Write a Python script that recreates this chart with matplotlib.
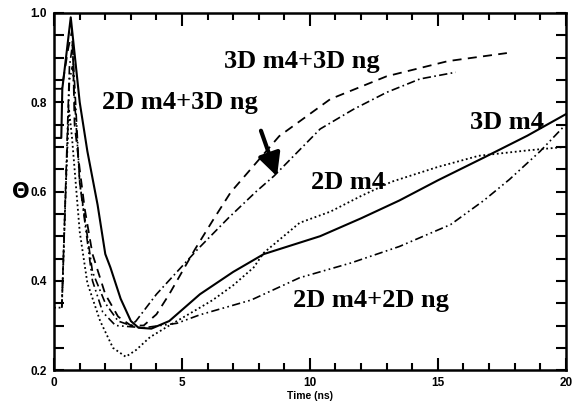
import matplotlib.pyplot as plt
from matplotlib.ticker import MultipleLocator

# time (ns) and theta for the five runs
t_3dm4 = [0, 0.28, 0.32, 0.65, 1.0, 1.3, 1.7, 2.0, 2.2, 2.6, 3.0, 3.3, 3.8, 4.5, 5.7, 7.0, 8.2, 10.4, 12.0, 13.5, 15.0, 16.8, 18.5, 20]
th_3dm4 = [0.72, 0.72, 0.83, 0.99, 0.80, 0.69, 0.57, 0.46, 0.43, 0.36, 0.31, 0.295, 0.293, 0.31, 0.37, 0.42, 0.46, 0.50, 0.54, 0.58, 0.625, 0.676, 0.725, 0.773]

t_2dm4 = [0, 0.3, 0.45, 0.58, 0.7, 0.9, 1.0, 1.3, 1.8, 2.3, 2.8, 3.2, 3.75, 4.5, 5.7, 6.2, 7.0, 7.8, 8.2, 9.6, 10.8, 12.0, 13.2, 15.0, 16.6, 18.5, 20]
th_2dm4 = [0.34, 0.34, 0.6, 0.785, 0.72, 0.58, 0.51, 0.395, 0.31, 0.25, 0.23, 0.245, 0.274, 0.30, 0.34, 0.357, 0.39, 0.43, 0.463, 0.53, 0.555, 0.59, 0.622, 0.655, 0.68, 0.692, 0.70]

t_3d3d = [0, 0.3, 0.55, 0.7, 0.75, 0.8, 1.0, 1.2, 1.5, 2.0, 2.5, 3.0, 3.5, 4.0, 4.5, 4.9, 5.5, 6.2, 6.9, 8.8, 10.8, 13.0, 15.4, 17.7]
th_3d3d = [0.83, 0.83, 0.92, 0.96, 0.88, 0.75, 0.65, 0.56, 0.46, 0.37, 0.32, 0.30, 0.30, 0.325, 0.37, 0.41, 0.47, 0.535, 0.598, 0.724, 0.807, 0.858, 0.892, 0.91]

t_2d3d = [0.3, 0.6, 0.72, 1.0, 1.5, 2.0, 2.5, 3.0, 3.2, 4.0, 4.8, 5.6, 6.8, 7.9, 8.6, 10.4, 11.7, 13.0, 14.3, 15.7]
th_2d3d = [0.34, 0.88, 0.93, 0.62, 0.42, 0.35, 0.31, 0.30, 0.31, 0.37, 0.42, 0.47, 0.54, 0.60, 0.635, 0.74, 0.784, 0.822, 0.852, 0.867]

t_2d2d = [0.3, 0.6, 0.72, 1.0, 1.5, 1.9, 2.4, 3.5, 4.8, 5.7, 7.7, 9.6, 11.6, 13.5, 15.5, 16.8, 17.8, 19.0, 20]
th_2d2d = [0.34, 0.85, 0.88, 0.62, 0.40, 0.33, 0.30, 0.295, 0.305, 0.324, 0.357, 0.407, 0.44, 0.477, 0.526, 0.58, 0.627, 0.69, 0.75]

fig = plt.figure(figsize=(5.82, 4.15), dpi=100)
ax = fig.add_axes([0.093, 0.108, 0.879, 0.861])

ax.plot(t_3dm4, th_3dm4, color='black', lw=1.5, ls='-')
ax.plot(t_2dm4, th_2dm4, color='black', lw=1.3, ls=(0, (1, 1.5)))
ax.plot(t_3d3d, th_3d3d, color='black', lw=1.3, ls=(0, (5, 3.5)))
ax.plot(t_2d3d, th_2d3d, color='black', lw=1.2, ls=(0, (5, 2, 1, 2)))
ax.plot(t_2d2d, th_2d2d, color='black', lw=1.2, ls=(0, (5, 2, 1, 2, 1, 2)))

lab = dict(fontsize=19, fontweight='bold', family='Liberation Serif', ha='center', va='center')
ax.text(9.7, 0.892, '3D m4+3D ng', **lab)
ax.text(4.9, 0.80, '2D m4+3D ng', **lab)
ax.text(17.7, 0.755, '3D m4', **lab)
ax.text(11.5, 0.62, '2D m4', **lab)
ax.text(12.4, 0.357, '2D m4+2D ng', **lab)
ax.annotate('', xy=(8.75, 0.628), xytext=(8.05, 0.742),
            arrowprops=dict(arrowstyle='-|>', lw=3, color='black', mutation_scale=34))

ax.set_xlim(0, 20)
ax.set_ylim(0.2, 1.0)
ax.xaxis.set_major_locator(MultipleLocator(5))
ax.xaxis.set_minor_locator(MultipleLocator(1))
ax.yaxis.set_major_locator(MultipleLocator(0.2))
ax.yaxis.set_minor_locator(MultipleLocator(0.05))
ax.tick_params(which='both', direction='in', top=True, right=True, width=1.5)
ax.tick_params(axis='x', which='major', length=9)
ax.tick_params(axis='x', which='minor', length=5)
ax.tick_params(axis='y', which='both', length=7)
ax.tick_params(axis='both', labelsize=8.5, pad=5)
for lb in ax.get_xticklabels() + ax.get_yticklabels():
    lb.set_fontweight('bold')
    lb.set_family('Liberation Sans')
for s in ax.spines.values():
    s.set_linewidth(1.8)

ax.set_xlabel('Time (ns)', fontsize=7.5, fontweight='bold', family='Liberation Sans', labelpad=1)
ax.set_ylabel('Θ', fontsize=15, fontweight='bold', rotation=0, va='center')
ax.yaxis.set_label_coords(-0.065, 0.5)

fig.savefig('out.png', dpi=100)
